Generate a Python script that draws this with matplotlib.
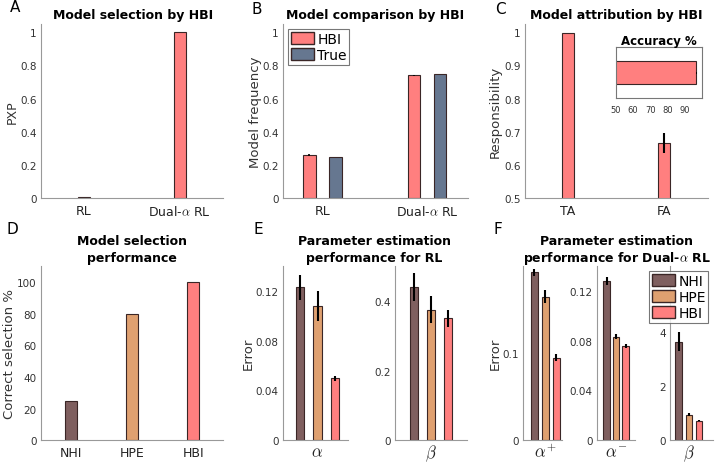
import numpy as np
import matplotlib
matplotlib.use('Agg')
from matplotlib import pyplot as plt
from matplotlib.patches import Patch

plt.rcParams['font.family'] = ['DejaVu Sans']
plt.rcParams['mathtext.fontset'] = 'cm'

# colours
c_nhi = '#7f5f5f'
c_hpe = '#dfa070'
c_hbi = '#ff7f7f'
c_true = '#667790'
edge = '#3a2626'

# A: model selection by HBI
a_models = ['RL', r'Dual-$\alpha$ RL']
a_pxp = [0.01, 1.0]

# B: model comparison
b_hbi = [0.26, 0.74]
b_hbi_err = [0.005, 0.005]
b_true = [0.25, 0.75]

# C: model attribution
c_labels = ['TA', 'FA']
c_resp = [0.998, 0.667]
c_err = [0.0, 0.03]
c_acc = 96.5
c_acc_err = 0.4

# D: model selection performance
methods = ['NHI', 'HPE', 'HBI']
d_correct = [25, 80, 100]

# E: parameter estimation for RL
e_alpha = [0.123, 0.108, 0.050]
e_alpha_err = [0.010, 0.012, 0.002]
e_beta = [0.44, 0.375, 0.35]
e_beta_err = [0.04, 0.038, 0.025]

# F: parameter estimation for Dual-alpha RL
f_alpha_p = [0.193, 0.165, 0.095]
f_alpha_p_err = [0.004, 0.007, 0.004]
f_alpha_m = [0.128, 0.083, 0.0757]
f_alpha_m_err = [0.003, 0.002, 0.0015]
f_beta = [3.65, 0.95, 0.73]
f_beta_err = [0.35, 0.05, 0.03]

W, H = 715, 464
fig = plt.figure(figsize=(W / 100, H / 100), dpi=100)


def px_axes(l, t, r, b):
    return fig.add_axes([l / W, 1 - b / H, (r - l) / W, (b - t) / H])


def style(ax, ysize=7.5, xsize=9):
    for s in ['top', 'right']:
        ax.spines[s].set_visible(False)
    for s in ['left', 'bottom']:
        ax.spines[s].set_color('#999999')
        ax.spines[s].set_linewidth(0.8)
    ax.tick_params(length=0, colors='#333333')
    ax.tick_params(axis='y', labelsize=ysize, pad=3)
    ax.tick_params(axis='x', labelsize=xsize, colors='#222222', pad=4)


def ftext(x, y, s, **kw):
    fig.text(x / W, 1 - y / H, s, **kw)


title_kw = dict(ha='center', va='center', fontsize=9, fontweight='bold')
ylab_kw = dict(ha='center', va='center', rotation=90, fontsize=9.5, color='#333333')
lab_kw = dict(ha='center', va='center', fontsize=11)

# ---- A
ax = px_axes(40.7, 25, 223, 199.3)
ax.bar([1, 2], a_pxp, width=0.12, color=c_hbi, edgecolor=edge, linewidth=0.8)
ax.set_xlim(0.55, 2.45)
ax.set_ylim(0, 1.05)
ax.set_yticks([0, 0.2, 0.4, 0.6, 0.8, 1])
ax.set_yticklabels(['0', '0.2', '0.4', '0.6', '0.8', '1'])
ax.set_xticks([1, 2])
ax.set_xticklabels(a_models)
style(ax)
ftext(132.7, 15.5, 'Model selection by HBI', **title_kw)
ftext(12, 112, 'PXP', **dict(ylab_kw, fontsize=9))
ftext(15, 8, 'A', **lab_kw)

# ---- B
ax = px_axes(282.7, 25, 468, 199.3)
x = np.array([1, 2])
ax.bar(x - 0.125, b_hbi, width=0.117, color=c_hbi, edgecolor=edge, linewidth=0.8,
       yerr=b_hbi_err, error_kw=dict(ecolor='black', elinewidth=1.2, capsize=0))
ax.bar(x + 0.125, b_true, width=0.117, color=c_true, edgecolor=edge, linewidth=0.8)
ax.set_xlim(0.62, 2.39)
ax.set_ylim(0, 1.05)
ax.set_yticks([0, 0.2, 0.4, 0.6, 0.8, 1])
ax.set_yticklabels(['0', '0.2', '0.4', '0.6', '0.8', '1'])
ax.set_xticks([1, 2])
ax.set_xticklabels(a_models)
style(ax)
leg = ax.legend(handles=[Patch(facecolor=c_hbi, edgecolor=edge, label='HBI'),
                         Patch(facecolor=c_true, edgecolor=edge, label='True')],
                loc='upper left', bbox_to_anchor=((288 - 282.7) / 185.3, 1 - 5 / 174.3),
                fontsize=10, frameon=True, fancybox=False, handlelength=1.7,
                handleheight=0.95, handletextpad=0.2, borderpad=0.2, labelspacing=0.15,
                borderaxespad=0)
leg.get_frame().set_edgecolor('#555555')
leg.get_frame().set_linewidth(0.8)
ftext(375, 15.5, 'Model comparison by HBI', **title_kw)
ftext(255, 112, 'Model frequency', **ylab_kw)
ftext(257, 10, 'B', **lab_kw)

# ---- C
ax = px_axes(525, 25, 708, 199.3)
ax.bar([1, 2], c_resp, width=0.12, color=c_hbi, edgecolor=edge, linewidth=0.8,
       yerr=c_err, error_kw=dict(ecolor='black', elinewidth=1.5, capsize=0))
ax.set_xlim(0.55, 2.46)
ax.set_ylim(0.5, 1.025)
ax.set_yticks([0.5, 0.6, 0.7, 0.8, 0.9, 1])
ax.set_yticklabels(['0.5', '0.6', '0.7', '0.8', '0.9', '1'])
ax.set_xticks([1, 2])
ax.set_xticklabels(c_labels)
style(ax)
ftext(616.7, 15.5, 'Model attribution by HBI', **title_kw)
ftext(495, 112, 'Responsibility', **ylab_kw)
ftext(500, 10, 'C', **lab_kw)

ins = px_axes(615.7, 48.3, 702.3, 99.3)
ins.barh([1], [c_acc], left=0, height=0.45, color=c_hbi, edgecolor=edge, linewidth=0.8,
         xerr=[c_acc_err], error_kw=dict(ecolor='black', elinewidth=1.2, capsize=0))
ins.set_xlim(50, 100)
ins.set_ylim(0.5, 1.5)
ins.set_yticks([])
ins.set_xticks([50, 60, 70, 80, 90])
ins.tick_params(length=0, labelsize=6, colors='#333333', pad=5)
for s in ins.spines.values():
    s.set_color('#777777')
    s.set_linewidth(0.8)
ftext(659, 41, 'Accuracy %', ha='center', va='center', fontsize=8.5, fontweight='bold')

# ---- D
ax = px_axes(40.7, 267, 222.7, 441.3)
ax.bar([1, 2, 3], d_correct, width=0.19, color=[c_nhi, c_hpe, c_hbi],
       edgecolor=edge, linewidth=0.8)
ax.set_xlim(0.51, 3.48)
ax.set_ylim(0, 110)
ax.set_yticks([0, 20, 40, 60, 80, 100])
ax.set_xticks([1, 2, 3])
ax.set_xticklabels(methods)
style(ax)
ftext(131.7, 242, 'Model selection', **title_kw)
ftext(131.7, 258.5, 'performance', **title_kw)
ftext(10, 354, 'Correct selection %', **ylab_kw)
ftext(12, 230, 'D', **lab_kw)

ekw = dict(ecolor='black', elinewidth=1.5, capsize=0)
cols3 = [c_nhi, c_hpe, c_hbi]


def small_bars(box, xlim, ylim, yticks, yticklabels, vals, errs, xlabel, width):
    a = px_axes(*box)
    a.bar([1, 2, 3], vals, width=width, color=cols3, edgecolor=edge, linewidth=0.8,
          yerr=errs, error_kw=ekw)
    a.set_xlim(*xlim)
    a.set_ylim(*ylim)
    a.set_yticks(yticks)
    a.set_yticklabels(yticklabels)
    a.set_xticks([2])
    a.set_xticklabels([xlabel])
    style(a, xsize=12)
    a.tick_params(axis='x', pad=1.5)
    return a


# ---- E
small_bars((282.7, 267, 348, 441.3), (0.0, 3.75), (0, 0.14), [0, 0.04, 0.08, 0.12],
           ['0', '0.04', '0.08', '0.12'], e_alpha, e_alpha_err, r'$\alpha$', 0.47)
small_bars((395, 267, 466.7, 441.3), (-0.1, 4.07), (0, 0.5), [0, 0.2, 0.4],
           ['0', '0.2', '0.4'], e_beta, e_beta_err, r'$\beta$', 0.45)
ftext(374, 242, 'Parameter estimation', **title_kw)
ftext(374, 258.5, 'performance for RL', **title_kw)
ftext(248, 354, 'Error', **ylab_kw)
ftext(258, 230, 'E', **lab_kw)

# ---- F
small_bars((523.3, 267, 561.7, 441.3), (0.0, 3.5), (0, 0.2), [0, 0.1],
           ['0', '0.1'], f_alpha_p, f_alpha_p_err, r'$\alpha^{+}$', 0.67)
small_bars((596.7, 267, 635, 441.3), (-0.05, 4.0), (0, 0.14), [0, 0.04, 0.08, 0.12],
           ['0', '0.04', '0.08', '0.12'], f_alpha_m, f_alpha_m_err, r'$\alpha^{-}$', 0.67)
axb = small_bars((670, 267, 713.3, 441.3), (0.15, 4.4), (0, 6.45), [0, 2, 4, 6],
                 ['0', '2', '4', '6'], f_beta, f_beta_err, r'$\beta$', 0.65)
leg = axb.legend(handles=[Patch(facecolor=c, edgecolor=edge, label=m)
                          for c, m in zip(cols3, methods)],
                 loc='upper left', bbox_to_anchor=((649 - 670) / 43.3, 1 - 5 / 174.3),
                 fontsize=10, frameon=True, fancybox=False, handlelength=1.7,
                 handleheight=0.95, handletextpad=0.2, borderpad=0.2, labelspacing=0.15,
                 borderaxespad=0)
leg.get_frame().set_edgecolor('#555555')
leg.get_frame().set_linewidth(0.8)
leg.set_zorder(10)
ftext(616.7, 242, 'Parameter estimation', **title_kw)
ftext(616.7, 258.5, r'performance for Dual-$\alpha$ RL', **title_kw)
ftext(495, 354, 'Error', **ylab_kw)
ftext(498, 230, 'F', **lab_kw)

fig.savefig('out.png', dpi=100)
